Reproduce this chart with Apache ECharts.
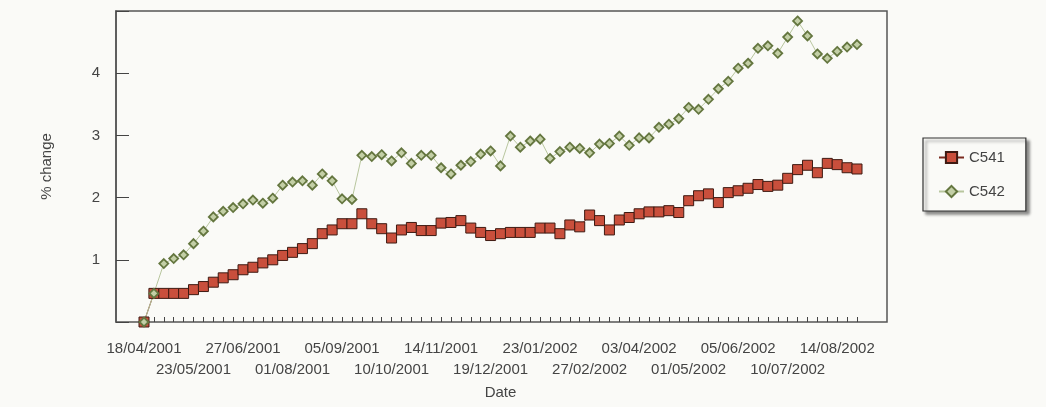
<!DOCTYPE html>
<html>
<head>
<meta charset="utf-8">
<script src="https://cdn.jsdelivr.net/npm/echarts@6/dist/echarts.min.js"></script>
<style>
html,body{margin:0;padding:0;background:#fafaf7;}
#chart{width:1046px;height:407px;}
</style>
</head>
<body>
<div id="chart"></div>
<script>
const dates = [
  '18/04/2001','25/04/2001','02/05/2001','09/05/2001','16/05/2001',
  '23/05/2001','30/05/2001','06/06/2001','13/06/2001','20/06/2001',
  '27/06/2001','04/07/2001','11/07/2001','18/07/2001','25/07/2001',
  '01/08/2001','08/08/2001','15/08/2001','22/08/2001','29/08/2001',
  '05/09/2001','12/09/2001','19/09/2001','26/09/2001','03/10/2001',
  '10/10/2001','17/10/2001','24/10/2001','31/10/2001','07/11/2001',
  '14/11/2001','21/11/2001','28/11/2001','05/12/2001','12/12/2001',
  '19/12/2001','26/12/2001','02/01/2002','09/01/2002','16/01/2002',
  '23/01/2002','30/01/2002','06/02/2002','13/02/2002','20/02/2002',
  '27/02/2002','06/03/2002','13/03/2002','20/03/2002','27/03/2002',
  '03/04/2002','10/04/2002','17/04/2002','24/04/2002','29/04/2002',
  '01/05/2002','08/05/2002','15/05/2002','22/05/2002','29/05/2002',
  '05/06/2002','12/06/2002','19/06/2002','26/06/2002','03/07/2002',
  '10/07/2002','17/07/2002','24/07/2002','31/07/2002','07/08/2002',
  '14/08/2002','21/08/2002','28/08/2002'
];
const c541 = [
  0, 0.46, 0.46, 0.46, 0.46,
  0.52, 0.57, 0.64, 0.71, 0.76,
  0.84, 0.88, 0.95, 1.00, 1.07,
  1.12, 1.18, 1.26, 1.42, 1.48,
  1.58, 1.58, 1.74, 1.58, 1.50,
  1.35, 1.48, 1.52, 1.47, 1.47,
  1.59, 1.60, 1.63, 1.51, 1.44,
  1.39, 1.42, 1.44, 1.44, 1.44,
  1.51, 1.51, 1.42, 1.56, 1.53,
  1.72, 1.63, 1.48, 1.64, 1.68,
  1.74, 1.77, 1.77, 1.79, 1.76,
  1.95, 2.03, 2.06, 1.92, 2.08,
  2.11, 2.15, 2.21, 2.18, 2.20,
  2.31, 2.45, 2.52, 2.40, 2.55,
  2.53, 2.48, 2.46
];
const c542 = [
  0, 0.46, 0.94, 1.02, 1.08,
  1.26, 1.46, 1.69, 1.78, 1.84,
  1.90, 1.96, 1.91, 1.99, 2.20,
  2.25, 2.27, 2.20, 2.38, 2.27,
  1.98, 1.97, 2.68, 2.66, 2.69,
  2.59, 2.72, 2.55, 2.68, 2.68,
  2.48, 2.38, 2.52, 2.58, 2.70,
  2.75, 2.51, 2.99, 2.81, 2.91,
  2.94, 2.63, 2.74, 2.81, 2.79,
  2.72, 2.86, 2.87, 2.99, 2.84,
  2.96, 2.96, 3.13, 3.18, 3.27,
  3.45, 3.42, 3.58, 3.75, 3.87,
  4.08, 4.16, 4.40, 4.44, 4.32,
  4.58, 4.84, 4.60, 4.31, 4.24,
  4.35, 4.42, 4.46
];
const yTicks = [1, 2, 3, 4];

const font = "'Liberation Sans', Arial, sans-serif";
const textColor = '#444';

const chart = echarts.init(document.getElementById('chart'), null, {renderer: 'canvas'});
chart.setOption({
  backgroundColor: '#fafaf7',
  animation: false,
  textStyle: {fontFamily: font},
  legend: {
    orient: 'vertical',
    left: 923, top: 138,
    padding: [12, 21, 12, 15],
    itemGap: 19,
    itemWidth: 25, itemHeight: 14,
    backgroundColor: '#fafaf7',
    borderColor: '#333', borderWidth: 1.2,
    shadowColor: 'rgba(0,0,0,0.45)', shadowBlur: 3, shadowOffsetX: 3, shadowOffsetY: 3,
    textStyle: {fontSize: 15, color: textColor, fontFamily: font},
    data: ['C541', 'C542']
  },
  grid: [
    {left: 116, right: 159, top: 11, bottom: 85, show: true, borderColor: '#555', borderWidth: 1.5, backgroundColor: 'transparent'},
    {left: 144, right: 189, top: 11, bottom: 85}
  ],
  xAxis: [
    {gridIndex: 0, type: 'value', show: false, min: 0, max: 1},
    {
      gridIndex: 1, type: 'category', data: dates, boundaryGap: false, position: 'bottom',
      axisLine: {show: false},
      axisTick: {show: true, inside: true, length: 5, interval: 0, lineStyle: {color: '#444', width: 1}},
      axisLabel: {
        interval: function (i) { return i % 10 === 0; },
        fontSize: 15, color: textColor, margin: 19, fontFamily: font
      },
      name: 'Date', nameLocation: 'middle', nameGap: 63,
      nameTextStyle: {fontSize: 15, color: textColor, fontFamily: font},
      splitLine: {show: false}
    },
    {
      gridIndex: 1, type: 'category', data: dates, boundaryGap: false, position: 'bottom', offset: 0,
      axisLine: {show: false},
      axisTick: {show: false},
      axisLabel: {
        interval: function (i) { return i % 10 === 5; },
        fontSize: 15, color: textColor, margin: 40, fontFamily: font
      },
      splitLine: {show: false}
    }
  ],
  yAxis: [
    {
      gridIndex: 0, type: 'value', min: 0, max: 5, interval: 1,
      axisLine: {show: true, lineStyle: {color: '#555', width: 1.5}},
      axisTick: {show: true, inside: true, length: 13, lineStyle: {color: '#444'}},
      axisLabel: {
        fontSize: 15, color: textColor, margin: 16, fontFamily: font,
        formatter: function (v) { return yTicks.indexOf(v) >= 0 ? String(v) : ''; }
      },
      splitLine: {show: false},
      name: '% change', nameLocation: 'middle', nameGap: 62, nameRotate: 90,
      nameTextStyle: {fontSize: 15, color: textColor, fontFamily: font}
    },
    {gridIndex: 1, type: 'value', min: 0, max: 5, show: false, splitLine: {show: false}}
  ],
  series: [
    {
      name: 'C541', type: 'line', xAxisIndex: 1, yAxisIndex: 1, data: c541,
      symbol: 'rect', symbolSize: 10, showAllSymbol: true,
      lineStyle: {color: '#7a2a1e', width: 1},
      itemStyle: {color: '#c94f3c', borderColor: '#3e1a12', borderWidth: 1}
    },
    {
      name: 'C542', type: 'line', xAxisIndex: 1, yAxisIndex: 1, data: c542,
      symbol: 'diamond', symbolSize: 9, showAllSymbol: true,
      lineStyle: {color: '#b8c69e', width: 1},
      itemStyle: {color: '#c3cfa6', borderColor: '#64763f', borderWidth: 1.8}
    }
  ]
});
</script>
</body>
</html>
